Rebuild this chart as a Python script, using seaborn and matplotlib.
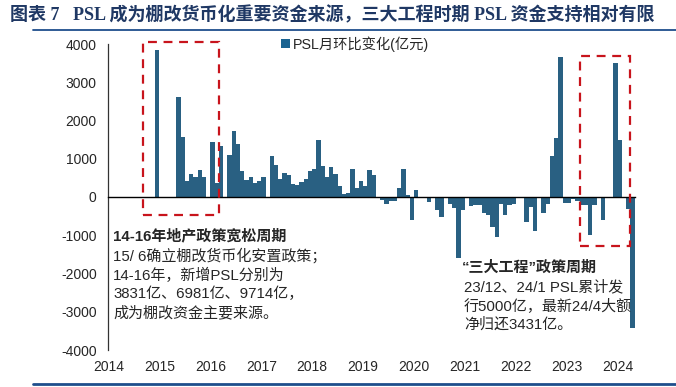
import numpy as np
import pandas as pd
import matplotlib
matplotlib.use("Agg")
import matplotlib.pyplot as plt
import seaborn as sns
from matplotlib.patches import Rectangle, Patch
from matplotlib.lines import Line2D

# ---------------- data (亿元, monthly change of PSL balance) ----------------
years = ["2014", "2015", "2016", "2017", "2018", "2019", "2020", "2021", "2022", "2023", "2024"]
psl_2014 = [0, 0, 0, 0, 0, 0, 0, 0, 0, 0, 0, 3831]
psl_2015 = [0, 0, 0, 0, 2625, 1580, 425, 600, 530, 705, 516, 0]
psl_2016 = [1430, 365, 1345, -30, 1090, 1720, 1395, 680, 445, 515, 365, 420]
psl_2017 = [523, 0, 1082, 837, 463, 638, 567, 340, 323, 384, 471, 680]
psl_2018 = [720, 1500, 803, 515, 784, 593, 298, 89, 115, 724, 245, 418]
psl_2019 = [298, 706, 575, 0, -86, -191, -96, -96, 227, 732, 44, -609]
psl_2020 = [185, 0, 0, -118, 0, -350, -523, 0, -195, -290, -1585, -340]
psl_2021 = [0, -225, -215, -215, -430, -470, -775, -1055, -185, -462, -218, -174]
psl_2022 = [0, 0, -645, -250, -885, 0, -420, -190, 1072, 1553, 3660, -160]
psl_2023 = [-150, -40, -110, -210, -210, -984, -218, 0, -610, 0, 0, 3500]
psl_2024 = [1500, 0, -325, -3431]
yticks = [4000, 3000, 2000, 1000, 0, -1000, -2000, -3000, -4000]
series_name = "PSL月环比变化(亿元)"

values = (psl_2014 + psl_2015 + psl_2016 + psl_2017 + psl_2018 + psl_2019 +
          psl_2020 + psl_2021 + psl_2022 + psl_2023 + psl_2024)
df = pd.DataFrame({"m": np.arange(len(values)), "v": values})

# ---------------- style ----------------
sns.set_style("white")
plt.rcParams["font.family"] = ["Liberation Sans", "Noto Sans CJK SC"]
plt.rcParams["axes.unicode_minus"] = False

W, H = 676, 387
fig = plt.figure(figsize=(W / 100, H / 100), dpi=100)
ax = fig.add_axes([108.5 / W, 1 - 350 / H, (634.7 - 108.5) / W, (350 - 44) / H])

bar_color = "#1A6391"
sns.barplot(data=df, x="m", y="v", native_scale=True, width=1.0, color=bar_color,
            linewidth=0, edgecolor=bar_color, errorbar=None, antialiased=False, ax=ax)

ax.set_xlim(-0.5, len(values) - 0.5)
ax.set_ylim(-4000, 4000)
ax.set_yticks(yticks)
ax.set_yticklabels([str(t) for t in yticks], fontsize=10)
ax.set_xlabel("")
ax.set_ylabel("")

for s in ["top", "right"]:
    ax.spines[s].set_visible(False)
ax.spines["left"].set_color("#333333")
ax.spines["left"].set_linewidth(0.9)
ax.tick_params(axis="y", direction="out", length=3.5, width=0.9, color="#333333", pad=5)

# x axis line drawn at zero, year labels at the bottom of the plot
year_pos = [-0.5 + 12 * i for i in range(len(years))]
ax.spines["bottom"].set_position(("data", 0))
ax.spines["bottom"].set_color("black")
ax.spines["bottom"].set_linewidth(1.0)
ax.spines["bottom"].set_zorder(3)
ax.set_xticks(year_pos)
ax.set_xticklabels(years, fontsize=10)
ax.tick_params(axis="x", direction="out", length=2.5, width=0.9, color="black",
               pad=(362 - 197 - 2.5) * 0.72 - 2)

# legend
handles = [Patch(facecolor=bar_color, edgecolor="none")]
fig.legend(handles, [series_name], loc="center left",
           bbox_to_anchor=(281 / W, 1 - 44 / H), frameon=False, fontsize=10.3,
           handlelength=0.6, handleheight=0.6, handletextpad=0.25, borderpad=0,
           borderaxespad=0)

# red dashed boxes
red = "#C8141C"
for (x0, x1, y0, y1) in [(7.7, 25.6, -480, 4050), (110.5, 122.5, -1290, 3690)]:
    ax.add_patch(Rectangle((x0, y0), x1 - x0, y1 - y0, fill=False, edgecolor=red,
                           linestyle=(0, (4, 3)), linewidth=1.6, clip_on=False, zorder=5))

# annotations
fs = 10.8
left_lines = ["15/ 6确立棚改货币化安置政策；", "14-16年，新增PSL分别为",
              "3831亿、6981亿、9714亿，", "成为棚改资金主要来源。"]
fig.text(113 / W, 1 - 236 / H, "14-16年地产政策宽松周期", fontsize=fs, fontweight="bold",
         va="center", ha="left")
for i, t in enumerate(left_lines):
    fig.text(113 / W, 1 - (256 + 19 * i) / H, t, fontsize=fs, va="center", ha="left")

right_lines = ["23/12、24/1 PSL累计发", "行5000亿，最新24/4大额", "净归还3431亿。"]
fig.text(462 / W, 1 - 268 / H, "“三大工程”政策周期", fontsize=fs, fontweight="bold",
         va="center", ha="left")
for i, t in enumerate(right_lines):
    fig.text(464 / W, 1 - (287 + 19 * i) / H, t, fontsize=fs, va="center", ha="left")

# title and rules
navy = "#1F3864"
fig.text(10 / W, 1 - 15 / H,
         "图表 7   PSL 成为棚改货币化重要资金来源，三大工程时期 PSL 资金支持相对有限",
         fontsize=13.0, fontweight="bold", color=navy, va="center", ha="left",
         family=["Liberation Serif", "Noto Sans CJK SC"])
fig.add_artist(Line2D([33 / W, 1], [1 - 29.5 / H, 1 - 29.5 / H], color="#1F4E8C", lw=1.3))
fig.add_artist(Line2D([33 / W, 1], [1 - 383.5 / H, 1 - 383.5 / H], color="#1F4E8C", lw=2.0))

fig.savefig("out.png", dpi=100)
